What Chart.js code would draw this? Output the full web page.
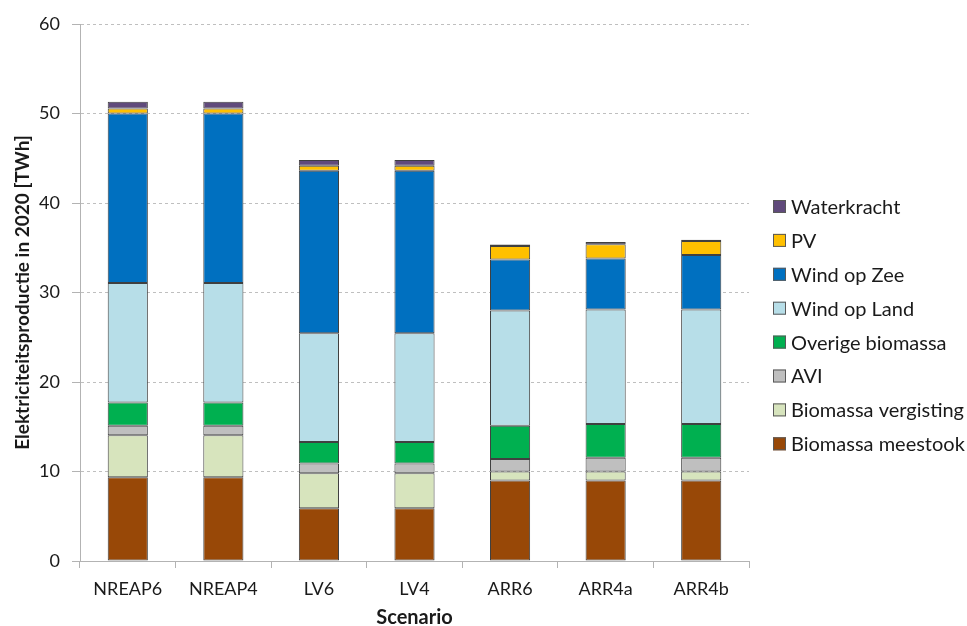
<!DOCTYPE html>
<html>
<head>
<meta charset="utf-8">
<script src="https://cdn.jsdelivr.net/npm/chart.js@4/dist/chart.umd.min.js"></script>
<style>
  html, body { margin: 0; padding: 0; background: #fff; }
  #wrap { width: 967px; height: 626px; }
</style>
</head>
<body>
<div id="wrap"><canvas id="c" width="967" height="626"></canvas></div>
<script>
// Scenarios on the x axis
const scenarios = ['NREAP6', 'NREAP4', 'LV6', 'LV4', 'ARR6', 'ARR4a', 'ARR4b'];

// Electricity production per source in 2020 [TWh], stacked bottom to top
const biomassaMeestook   = [9.35, 9.35, 5.9, 5.9, 9.0, 9.0, 9.0];
const biomassaVergisting = [4.7, 4.7, 3.9, 3.9, 1.0, 1.0, 1.0];
const avi                = [1.05, 1.05, 1.1, 1.1, 1.4, 1.55, 1.55];
const overigeBiomassa    = [2.6, 2.6, 2.4, 2.4, 3.7, 3.75, 3.75];
const windOpLand         = [13.35, 13.35, 12.15, 12.15, 12.9, 12.8, 12.8];
const windOpZee          = [18.95, 18.95, 18.15, 18.15, 5.7, 5.7, 6.1];
const pv                 = [0.55, 0.55, 0.55, 0.55, 1.5, 1.6, 1.55];
const waterkracht        = [0.75, 0.75, 0.65, 0.65, 0.15, 0.25, 0.15];

// Y axis ticks
const yTicks = [0, 10, 20, 30, 40, 50, 60];

const FONT = 'Lato, "Open Sans", sans-serif';

const seriesDefs = [
  { label: 'Biomassa meestook',   data: biomassaMeestook,   color: '#984807' },
  { label: 'Biomassa vergisting', data: biomassaVergisting, color: '#D7E4BD' },
  { label: 'AVI',                 data: avi,                color: '#BFBFBF' },
  { label: 'Overige biomassa',    data: overigeBiomassa,    color: '#00B050' },
  { label: 'Wind op Land',        data: windOpLand,         color: '#B7DEE8' },
  { label: 'Wind op Zee',         data: windOpZee,          color: '#0070C0' },
  { label: 'PV',                  data: pv,                 color: '#FFC000' },
  { label: 'Waterkracht',         data: waterkracht,        color: '#604A7B' }
];

const datasets = seriesDefs.map(s => ({
  label: s.label,
  data: s.data,
  backgroundColor: s.color,
  borderColor: '#404040',
  borderWidth: 1,
  borderSkipped: false,
  categoryPercentage: 0.42,
  barPercentage: 1.0
}));

// Legend on the right, top entry = top of the stack
const sideLegend = {
  id: 'sideLegend',
  afterDraw(chart) {
    const ctx = chart.ctx;
    const items = chart.data.datasets.slice().reverse();
    const boxX = 773, textX = 791, firstY = 206.5, step = 33.9, box = 13;
    ctx.save();
    ctx.font = '20px ' + FONT;
    ctx.textBaseline = 'middle';
    ctx.textAlign = 'left';
    items.forEach((ds, i) => {
      const y = firstY + i * step;
      ctx.fillStyle = ds.backgroundColor;
      ctx.fillRect(boxX, y - box / 2, box, box);
      ctx.strokeStyle = '#595959';
      ctx.lineWidth = 1;
      ctx.strokeRect(boxX + 0.5, y - box / 2 + 0.5, box - 1, box - 1);
      ctx.fillStyle = '#1a1a1a';
      ctx.fillText(ds.label, textX, y + 1);
    });
    ctx.restore();
  }
};

new Chart(document.getElementById('c'), {
  type: 'bar',
  data: { labels: scenarios, datasets },
  plugins: [sideLegend],
  options: {
    responsive: false,
    animation: false,
    layout: { padding: { top: 24, right: 218, left: 0, bottom: 0 } },
    plugins: {
      legend: { display: false },
      tooltip: { enabled: false }
    },
    scales: {
      x: {
        stacked: true,
        afterFit(scale) { scale.height = 65; },
        grid: {
          display: true,
          offset: true,
          drawOnChartArea: false,
          drawTicks: true,
          tickLength: 7,
          color: '#b3b3b3'
        },
        border: { display: true, color: '#b3b3b3', width: 1 },
        ticks: {
          color: '#1a1a1a',
          font: { family: FONT, size: 18 },
          padding: 10,
          maxRotation: 0
        },
        title: {
          display: true,
          text: 'Scenario',
          color: '#1a1a1a',
          font: { family: FONT, size: 20, weight: 'bold', lineHeight: 0.8 },
          padding: { top: 0, bottom: 0 }
        }
      },
      y: {
        stacked: true,
        min: 0,
        max: 60,
        afterFit(scale) { scale.width = 80; },
        afterBuildTicks(scale) { scale.ticks = yTicks.map(v => ({ value: v })); },
        grid: {
          color: '#bfbfbf',
          drawTicks: true,
          tickLength: 8,
          tickColor: '#b3b3b3'
        },
        border: { display: true, color: '#b3b3b3', width: 1, dash: [3, 3] },
        ticks: {
          color: '#1a1a1a',
          font: { family: FONT, size: 18 },
          padding: 12
        },
        title: {
          display: true,
          text: 'Elektriciteitsproductie in 2020 [TWh]',
          color: '#1a1a1a',
          font: { family: FONT, size: 19, weight: 'bold', lineHeight: 1.2 },
          padding: { top: 11.5, bottom: 0 }
        }
      }
    }
  }
});
</script>
</body>
</html>
